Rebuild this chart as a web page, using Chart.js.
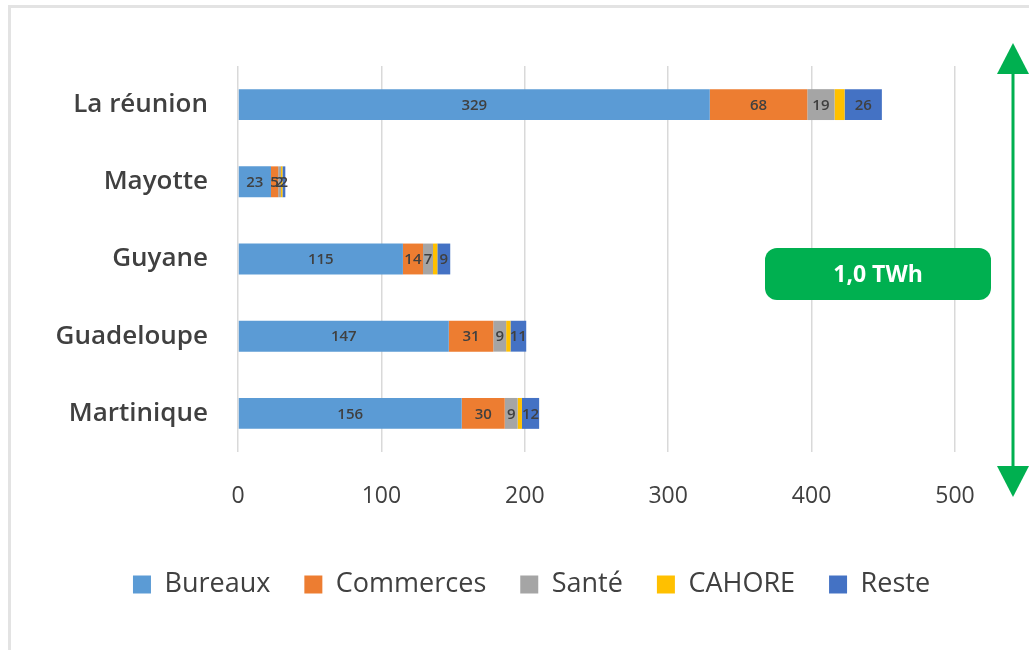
<!DOCTYPE html>
<html>
<head>
<meta charset="utf-8">
<script src="https://cdn.jsdelivr.net/npm/chart.js@4/dist/chart.umd.min.js"></script>
<style>
  html, body { margin: 0; padding: 0; background: #fff; }
  #wrap { position: relative; width: 1029px; height: 650px; overflow: hidden; }
  #frame { position: absolute; left: 8px; top: 5px; width: 1040px; height: 700px;
           border-left: 3px solid #e3e3e3; border-top: 3px solid #e3e3e3; }
  canvas { position: absolute; left: 0; top: 0; }
</style>
</head>
<body>
<div id="wrap">
  <div id="frame"></div>
  <canvas id="chart" width="1029" height="650"></canvas>
</div>
<script>
const regions = ['La réunion', 'Mayotte', 'Guyane', 'Guadeloupe', 'Martinique'];
const bureaux = [329, 23, 115, 147, 156];
const commerces = [68, 5, 14, 31, 30];
const sante = [19, 2, 7, 9, 9];
const cahore = [7, 1, 3, 3, 3];
const reste = [26, 2, 9, 11, 12];
const totalLabel = '1,0 TWh';

const FONT = "'Open Sans', 'Noto Sans', sans-serif";
const TEXT = '#404040';

// draws the value in the middle of each bar segment
const segmentLabels = {
    id: 'segmentLabels',
    afterDatasetsDraw(chart) {
        const ctx = chart.ctx;
        ctx.save();
        ctx.font = '600 15px ' + FONT;
        ctx.fillStyle = TEXT;
        ctx.textAlign = 'center';
        ctx.textBaseline = 'middle';
        chart.data.datasets.forEach((ds, i) => {
            if (ds.hideLabels) return;
            chart.getDatasetMeta(i).data.forEach((bar, j) => {
                const x = (bar.x + bar.base) / 2;
                ctx.fillText(ds.data[j], x, bar.y + 1);
            });
        });
        ctx.restore();
    }
};

// the legend sits a bit right of the plot centre in the original
const shiftLegend = {
    id: 'shiftLegend',
    afterLayout(chart) {
        if (chart.legend) {
            chart.legend.left += 54;
            chart.legend.right += 54;
        }
    }
};

// green double arrow and the total badge
const totalBadge = {
    id: 'totalBadge',
    afterDraw(chart) {
        const ctx = chart.ctx;
        const green = '#00b050';
        ctx.save();
        ctx.strokeStyle = green;
        ctx.fillStyle = green;
        ctx.lineWidth = 3;
        const ax = 1013, top = 43, bottom = 497;
        ctx.beginPath();
        ctx.moveTo(ax, top + 20);
        ctx.lineTo(ax, bottom - 20);
        ctx.stroke();
        ctx.beginPath();
        ctx.moveTo(ax, top); ctx.lineTo(ax - 16, top + 31); ctx.lineTo(ax + 16, top + 31);
        ctx.closePath(); ctx.fill();
        ctx.beginPath();
        ctx.moveTo(ax, bottom); ctx.lineTo(ax - 16, bottom - 31); ctx.lineTo(ax + 16, bottom - 31);
        ctx.closePath(); ctx.fill();

        const bx = 765, by = 248, bw = 226, bh = 52, r = 12;
        ctx.beginPath();
        ctx.roundRect(bx, by, bw, bh, r);
        ctx.fill();
        ctx.fillStyle = '#ffffff';
        ctx.font = 'bold 23px ' + FONT;
        ctx.textAlign = 'center';
        ctx.textBaseline = 'middle';
        ctx.fillText(totalLabel, bx + bw / 2, by + bh / 2 + 1);
        ctx.restore();
    }
};

function makeSet(label, data, color, hide) {
    return {
        label: label,
        data: data,
        backgroundColor: color,
        borderWidth: 0,
        categoryPercentage: 1,
        barPercentage: 0.4,
        hideLabels: !!hide
    };
}

new Chart(document.getElementById('chart'), {
    type: 'bar',
    data: {
        labels: regions,
        datasets: [
            makeSet('Bureaux', bureaux, '#5b9bd5'),
            makeSet('Commerces', commerces, '#ed7d31'),
            makeSet('Santé', sante, '#a5a5a5'),
            makeSet('CAHORE', cahore, '#ffc000', true),
            makeSet('Reste', reste, '#4472c4')
        ]
    },
    options: {
        indexAxis: 'y',
        responsive: false,
        animation: false,
        layout: { padding: { top: 66, right: 74, left: 0, bottom: 42 } },
        scales: {
            x: {
                stacked: true,
                min: 0,
                max: 500,
                ticks: { stepSize: 100, color: TEXT, font: { family: FONT, size: 23 }, padding: 31 },
                grid: { color: '#d9d9d9', lineWidth: 1.5, drawTicks: false },
                border: { display: false },
                afterFit(scale) { scale.height = 85; }
            },
            y: {
                stacked: true,
                ticks: { color: TEXT, font: { family: FONT, size: 26, weight: '600' }, padding: 22 },
                grid: { display: false },
                border: { display: false },
                afterFit(scale) { scale.width = 238; }
            }
        },
        plugins: {
            legend: {
                position: 'bottom',
                labels: {
                    color: TEXT,
                    font: { family: FONT, size: 27, weight: '500' },
                    boxWidth: 18,
                    boxHeight: 18,
                    padding: 34
                }
            },
            tooltip: { enabled: false }
        }
    },
    plugins: [segmentLabels, shiftLegend, totalBadge]
});
</script>
</body>
</html>
